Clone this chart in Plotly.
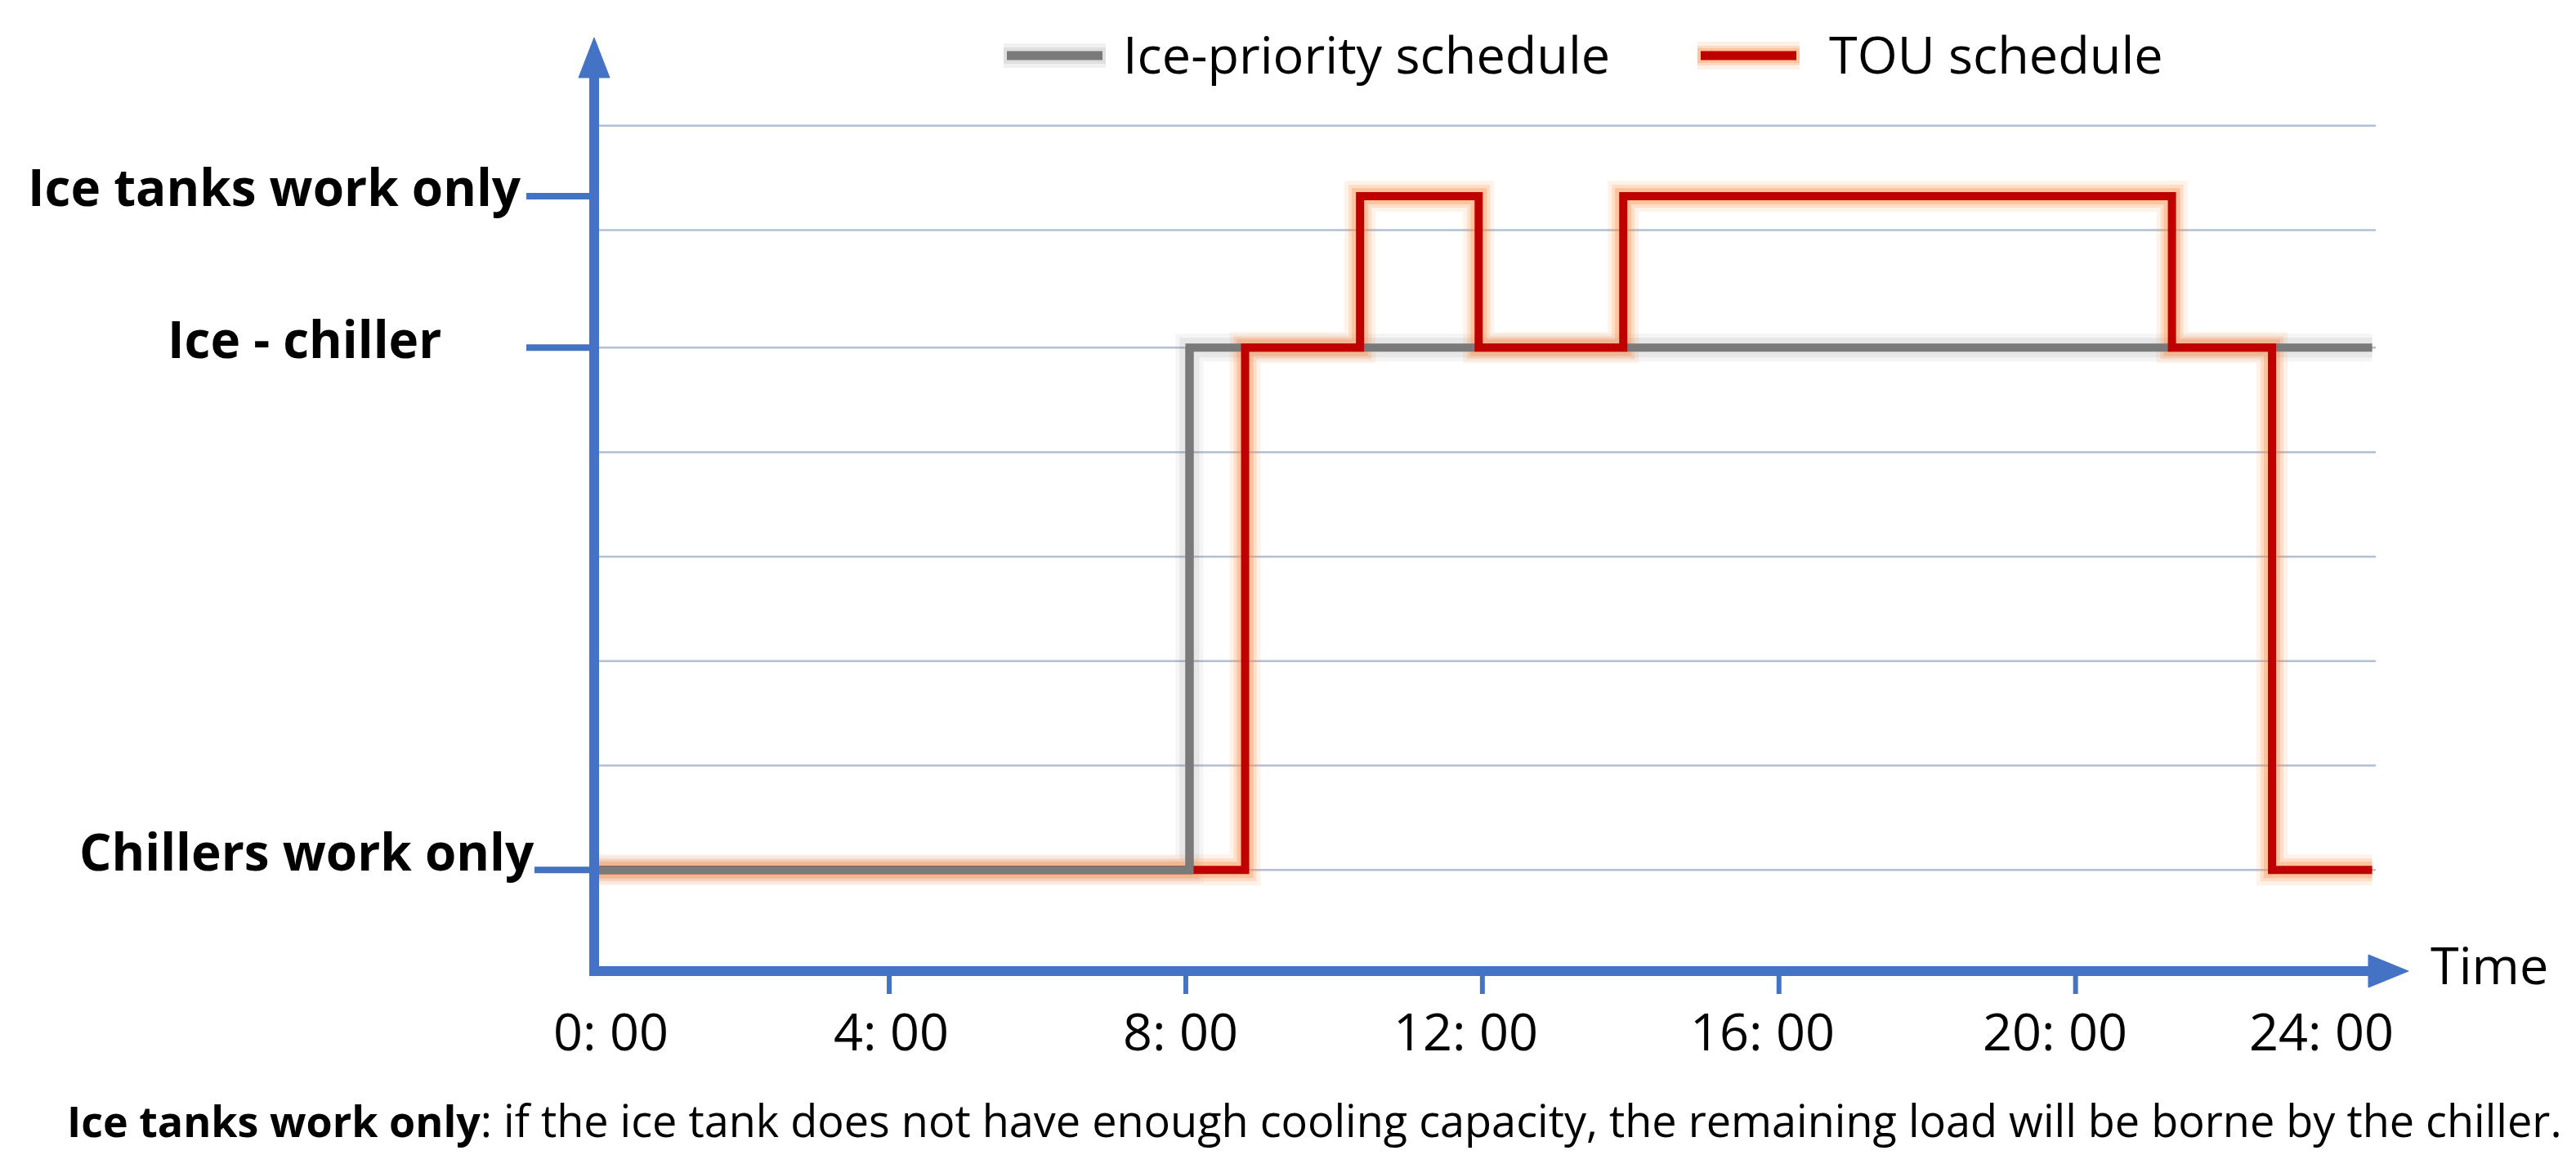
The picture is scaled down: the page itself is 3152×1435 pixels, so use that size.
import plotly.graph_objects as go

# ---------------- data ----------------
mode_names = ["Chillers work only", "Ice - chiller", "Ice tanks work only"]
mode_levels = [0.0, 1.0, 1.29]

hour_ticks = [0, 4, 8, 12, 16, 20, 24]
hour_tick_labels = ["0: 00", "4: 00", "8: 00", "12: 00", "16: 00", "20: 00", "24: 00"]

ice_priority_hours = [0, 8.05, 24]
ice_priority_modes = ["Chillers work only", "Ice - chiller", "Ice - chiller"]

tou_hours = [0, 8.8, 10.35, 11.95, 13.9, 21.3, 22.65, 24]
tou_modes = ["Chillers work only", "Ice - chiller", "Ice tanks work only", "Ice - chiller",
             "Ice tanks work only", "Ice - chiller", "Chillers work only", "Chillers work only"]

series_names = ["Ice-priority schedule", "TOU schedule"]
footnote_bold = "Ice tanks work only"
footnote_rest = (": if the ice tank does not have enough cooling capacity, "
                 "the remaining load will be borne by the chiller.")
x_title = "Time"

# ---------------- styling / geometry ----------------
W, H = 3152, 1435
L, R, T, B = 707, 195, 42, 211
X_RANGE = [-0.2, 24.6]
Y_RANGE = [-0.25, 1.6]
BLUE = "#4472C4"
RED = "#C00000"
GRAY = "#7A7A7A"
GRID = "#B3BFD3"
FONT = "Open Sans"

level_of = dict(zip(mode_names, mode_levels))
ice_y = [level_of[m] for m in ice_priority_modes]
tou_y = [level_of[m] for m in tou_modes]


def px_x(px):
    return (px - L) / (W - L - R)


def px_y(py):
    return 1 - (py - T) / (H - T - B)


fig = go.Figure()

# glows
for w, a in [(34, 0.07), (24, 0.11)]:
    fig.add_trace(go.Scatter(x=ice_priority_hours, y=ice_y, mode="lines", line_shape="hv",
                             line=dict(color=f"rgba(120,120,120,{a})", width=w),
                             hoverinfo="skip", showlegend=False))
for w, a in [(38, 0.11), (28, 0.18), (20, 0.30)]:
    fig.add_trace(go.Scatter(x=tou_hours, y=tou_y, mode="lines", line_shape="hv",
                             line=dict(color=f"rgba(255,135,55,{a})", width=w),
                             hoverinfo="skip", showlegend=False))

# core lines
fig.add_trace(go.Scatter(x=ice_priority_hours, y=ice_y, mode="lines", line_shape="hv",
                         name=series_names[0], line=dict(color=GRAY, width=10), showlegend=False))
fig.add_trace(go.Scatter(x=tou_hours, y=tou_y, mode="lines", line_shape="hv",
                         name=series_names[1], line=dict(color=RED, width=10), showlegend=False))
# ice-priority line sits on top where both schedules share "Chillers work only"
fig.add_trace(go.Scatter(x=ice_priority_hours[:2], y=ice_y[:2], mode="lines", line_shape="hv",
                         line=dict(color=GRAY, width=10), hoverinfo="skip", showlegend=False))

shapes = []
# horizontal gridlines
for g in [0, 0.2, 0.4, 0.6, 0.8, 1.0, 1.225, 1.425]:
    shapes.append(dict(type="line", xref="x", yref="y", x0=0, x1=24.05, y0=g, y1=g,
                       line=dict(color=GRID, width=2.5), layer="below"))

# y-axis line and arrow
shapes.append(dict(type="line", xref="paper", yref="paper", x0=px_x(727), x1=px_x(727),
                   y0=px_y(1194), y1=px_y(92), line=dict(color=BLUE, width=12), layer="above"))
shapes.append(dict(type="path", xref="paper", yref="paper",
                   path=f"M {px_x(708)} {px_y(95)} L {px_x(746)} {px_y(95)} L {px_x(727)} {px_y(46)} Z",
                   fillcolor=BLUE, line=dict(color=BLUE, width=1), layer="above"))
# x-axis line and arrow
shapes.append(dict(type="line", xref="paper", yref="paper", x0=px_x(721), x1=px_x(2902),
                   y0=px_y(1188), y1=px_y(1188), line=dict(color=BLUE, width=12), layer="above"))
shapes.append(dict(type="path", xref="paper", yref="paper",
                   path=f"M {px_x(2898)} {px_y(1168)} L {px_x(2898)} {px_y(1208)} L {px_x(2947)} {px_y(1188)} Z",
                   fillcolor=BLUE, line=dict(color=BLUE, width=1), layer="above"))

# y tick marks for each mode
tick_start_px = {"Chillers work only": 654, "Ice - chiller": 644, "Ice tanks work only": 644}
for m in mode_names:
    shapes.append(dict(type="line", xref="paper", yref="y", x0=px_x(tick_start_px[m]), x1=px_x(727),
                       y0=level_of[m], y1=level_of[m], line=dict(color=BLUE, width=8), layer="above"))

# x tick marks (inner hours)
for h in hour_ticks[1:-1]:
    shapes.append(dict(type="line", xref="x", yref="paper", x0=h, x1=h,
                       y0=px_y(1190), y1=px_y(1216), line=dict(color=BLUE, width=6), layer="above"))

# legend swatches
for x0, x1, col, glows in [
    (1232, 1349, GRAY, [(30, "rgba(120,120,120,0.10)"), (20, "rgba(120,120,120,0.15)")]),
    (2081, 2198, RED, [(34, "rgba(255,135,55,0.12)"), (24, "rgba(255,135,55,0.2)"), (18, "rgba(255,135,55,0.3)")]),
]:
    for w, c in glows:
        shapes.append(dict(type="line", xref="paper", yref="paper", x0=px_x(x0 - 4), x1=px_x(x1 + 4),
                           y0=px_y(68), y1=px_y(68), line=dict(color=c, width=w)))
    shapes.append(dict(type="line", xref="paper", yref="paper", x0=px_x(x0), x1=px_x(x1),
                       y0=px_y(68), y1=px_y(68), line=dict(color=col, width=11)))

annotations = []
# y labels
ylab_pos = {"Ice tanks work only": (640, "right", 12),
            "Ice - chiller": (372, "center", 11),
            "Chillers work only": (656, "right", 23)}
for m in mode_names:
    xp, anchor, ys = ylab_pos[m]
    annotations.append(dict(text=f"<b>{m}</b>", xref="paper", yref="y", x=px_x(xp), y=level_of[m],
                            yshift=ys, xanchor=anchor, yanchor="middle", showarrow=False,
                            font=dict(family=FONT, size=62, color="black")))
# x tick labels
label_shift = [22, 2, -6, -20, -20, -25, -62]
for h, lab, s in zip(hour_ticks, hour_tick_labels, label_shift):
    annotations.append(dict(text=lab, xref="x", yref="paper", x=h, y=px_y(1260), xshift=s,
                            xanchor="center", yanchor="middle", showarrow=False,
                            font=dict(family=FONT, size=63, color="black")))
# axis title
annotations.append(dict(text=x_title, xref="paper", yref="paper", x=px_x(2972), y=px_y(1179),
                        xanchor="left", yanchor="middle", showarrow=False,
                        font=dict(family=FONT, size=63, color="black")))
# legend texts
for name, xl in zip(series_names, [1372, 2236]):
    annotations.append(dict(text=name, xref="paper", yref="paper", x=px_x(xl), y=px_y(66),
                            xanchor="left", yanchor="middle", showarrow=False,
                            font=dict(family=FONT, size=63, color="black")))
# footnote
annotations.append(dict(text=f"<b><span style='font-size:52px'>{footnote_bold}</span></b>{footnote_rest}",
                        xref="paper", yref="paper",
                        x=px_x(80), y=px_y(1370), xanchor="left", yanchor="middle", showarrow=False,
                        font=dict(family=FONT, size=54, color="black")))

fig.update_layout(
    width=W, height=H,
    margin=dict(l=L, r=R, t=T, b=B, pad=0),
    paper_bgcolor="white", plot_bgcolor="white",
    xaxis=dict(range=X_RANGE, visible=False, fixedrange=True),
    yaxis=dict(range=Y_RANGE, visible=False, fixedrange=True),
    shapes=shapes, annotations=annotations,
    showlegend=False,
)

fig.write_html("out.html", config={"displayModeBar": False},
               post_script="document.body.style.margin='0';document.body.style.overflow='hidden';")
